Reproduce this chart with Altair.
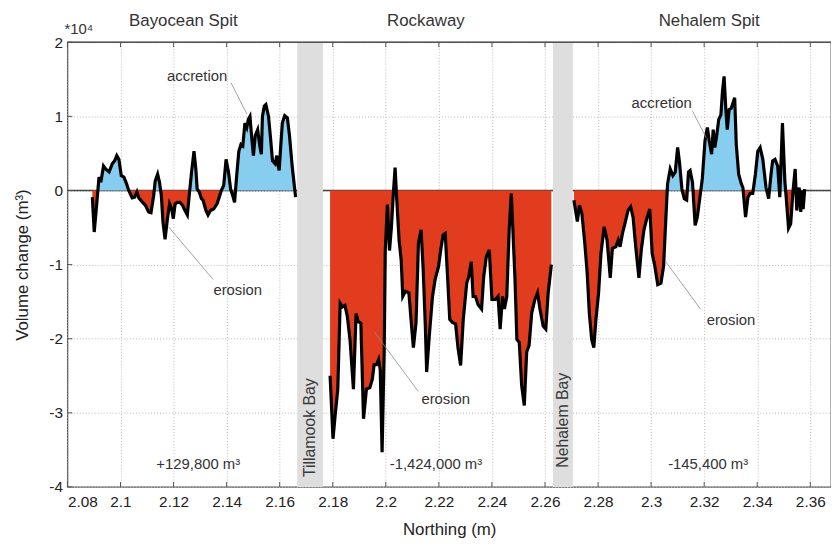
import altair as alt
import pandas as pd

# ---------------- data (volume change in units of 1e4 m^3) ----------------
seg1_n = [2.0894, 2.0901, 2.0911, 2.0919, 2.0926, 2.0936, 2.0944, 2.0957, 2.0969, 2.0978,
          2.0986, 2.0994, 2.1003, 2.1013, 2.1023, 2.1031, 2.1044, 2.1053, 2.1062, 2.1069,
          2.1081, 2.1094, 2.1106, 2.1115, 2.1125, 2.1131, 2.1140, 2.1147, 2.1154, 2.1160,
          2.1168, 2.1177, 2.1185, 2.1193, 2.1199, 2.1206, 2.1214, 2.1224, 2.1234, 2.1243,
          2.1252, 2.1259, 2.1268, 2.1277, 2.1284, 2.1289, 2.1297, 2.1305, 2.1311, 2.1322,
          2.1330, 2.1339, 2.1351, 2.1364, 2.1374, 2.1380, 2.1389, 2.1398, 2.1407, 2.1415,
          2.1423, 2.1430, 2.1438, 2.1446, 2.1454, 2.1461, 2.1469, 2.1476, 2.1482, 2.1488,
          2.1494, 2.1501, 2.1508, 2.1517, 2.1525, 2.1531, 2.1535, 2.1542, 2.1548, 2.1558,
          2.1566, 2.1573, 2.1583, 2.1589, 2.1598, 2.1604, 2.1610, 2.1619, 2.1629, 2.1637,
          2.1647, 2.1660]
seg1_v = [-0.09, -0.56, -0.16, 0.18, 0.11, 0.33, 0.29, 0.25, 0.36, 0.40,
          0.47, 0.42, 0.20, 0.18, 0.09, 0.00, -0.10, -0.09, -0.02, -0.10,
          -0.15, -0.20, -0.29, -0.30, -0.07, 0.13, 0.22, 0.11, -0.07, -0.42,
          -0.66, -0.38, -0.18, -0.25, -0.38, -0.18, -0.16, -0.16, -0.20, -0.27,
          -0.33, -0.07, 0.25, 0.53, 0.29, 0.02, -0.02, -0.11, -0.13, -0.27,
          -0.33, -0.27, -0.25, -0.18, -0.07, 0.00, 0.07, 0.42, 0.25, 0.02,
          -0.07, -0.16, 0.20, 0.53, 0.62, 0.60, 0.91, 0.85, 0.96, 1.00,
          0.74, 0.47, 0.74, 0.82, 0.60, 0.49, 1.00, 1.14, 1.16, 1.00,
          0.69, 0.40, 0.36, 0.47, 0.27, 0.60, 0.91, 1.01, 0.98, 0.74,
          0.33, -0.09]

seg2_n = [2.1790, 2.1801, 2.1809, 2.1819, 2.1828, 2.1837, 2.1846, 2.1855, 2.1865, 2.1878,
          2.1888, 2.1896, 2.1906, 2.1916, 2.1927, 2.1940, 2.1949, 2.1956, 2.1965, 2.1973,
          2.1979, 2.1986, 2.1994, 2.1998, 2.2006, 2.2014, 2.2021, 2.2029, 2.2035, 2.2041,
          2.2050, 2.2058, 2.2064, 2.2074, 2.2087, 2.2095, 2.2104, 2.2114, 2.2123, 2.2133,
          2.2141, 2.2149, 2.2154, 2.2164, 2.2176, 2.2186, 2.2199, 2.2207, 2.2216, 2.2224,
          2.2232, 2.2241, 2.2251, 2.2263, 2.2272, 2.2282, 2.2292, 2.2305, 2.2313, 2.2322,
          2.2329, 2.2338, 2.2348, 2.2361, 2.2369, 2.2379, 2.2390, 2.2400, 2.2413, 2.2423,
          2.2431, 2.2440, 2.2447, 2.2456, 2.2465, 2.2473, 2.2479, 2.2487, 2.2494, 2.2503,
          2.2512, 2.2522, 2.2531, 2.2540, 2.2550, 2.2562, 2.2572, 2.2581, 2.2593, 2.2603,
          2.2612, 2.2624]
seg2_v = [-2.50, -3.35, -3.04, -2.68, -1.52, -1.57, -1.55, -1.70, -2.01, -2.68,
          -1.66, -1.77, -1.79, -3.08, -2.68, -2.66, -2.55, -2.35, -2.35, -2.28,
          -2.42, -3.53, -2.15, -0.81, -0.19, -0.81, -0.50, -0.01, 0.31, -0.10,
          -0.67, -0.94, -1.43, -1.36, -1.38, -1.74, -2.12, -1.78, -0.71, -0.53,
          -1.07, -1.83, -2.45, -1.96, -1.43, -1.20, -1.02, -0.80, -0.60, -0.58,
          -1.11, -1.74, -1.78, -1.80, -2.12, -2.36, -1.74, -1.25, -1.16, -0.96,
          -1.43, -1.43, -1.54, -1.60, -1.16, -0.89, -0.80, -1.47, -1.47, -1.43,
          -1.87, -1.43, -1.60, -1.43, -0.53, -0.04, -0.53, -1.20, -2.01, -2.05,
          -2.63, -2.90, -2.18, -2.09, -1.65, -1.47, -1.38, -1.60, -1.83, -1.87,
          -1.38, -1.00]

seg3_n = [2.2709, 2.2722, 2.2730, 2.2739, 2.2749, 2.2759, 2.2767, 2.2776, 2.2784, 2.2792,
          2.2802, 2.2811, 2.2823, 2.2834, 2.2846, 2.2854, 2.2867, 2.2876, 2.2883, 2.2892,
          2.2901, 2.2913, 2.2923, 2.2932, 2.2942, 2.2954, 2.2963, 2.2973, 2.2985, 2.2995,
          2.3004, 2.3013, 2.3025, 2.3037, 2.3047, 2.3054, 2.3062, 2.3072, 2.3082, 2.3091,
          2.3100, 2.3107, 2.3116, 2.3125, 2.3134, 2.3141, 2.3147, 2.3156, 2.3166, 2.3174,
          2.3184, 2.3193, 2.3203, 2.3212, 2.3219, 2.3228, 2.3234, 2.3240, 2.3246, 2.3255,
          2.3263, 2.3269, 2.3275, 2.3282, 2.3287, 2.3294, 2.3302, 2.3315, 2.3321, 2.3330,
          2.3340, 2.3346, 2.3356, 2.3365, 2.3373, 2.3383, 2.3393, 2.3402, 2.3411, 2.3421,
          2.3433, 2.3443, 2.3452, 2.3458, 2.3467, 2.3477, 2.3485, 2.3495, 2.3504, 2.3510,
          2.3518, 2.3526, 2.3535, 2.3543, 2.3549, 2.3558, 2.3564, 2.3570, 2.3573, 2.3579]
seg3_v = [-0.13, -0.42, -0.20, -0.31, -0.67, -1.11, -1.65, -2.01, -2.12, -1.74,
          -1.38, -0.85, -0.49, -0.67, -1.18, -0.78, -0.76, -0.67, -0.76, -0.58,
          -0.45, -0.27, -0.22, -0.36, -0.76, -1.18, -0.80, -0.53, -0.36, -0.25,
          -0.85, -1.00, -1.27, -1.25, -1.02, -0.49, 0.09, 0.29, 0.20, 0.25,
          0.58, 0.38, 0.02, -0.11, -0.13, 0.25, 0.27, 0.11, -0.47, -0.36,
          -0.09, 0.16, 0.67, 0.85, 0.67, 0.49, 0.82, 0.58, 0.71, 0.96,
          1.02, 1.34, 1.54, 1.07, 0.82, 1.09, 1.11, 1.25, 0.62, 0.22,
          0.09, 0.04, -0.36, -0.09, -0.04, -0.04, 0.22, 0.53, 0.58, 0.42,
          0.04, -0.11, 0.22, 0.40, 0.42, 0.33, -0.09, 0.91, 0.13, -0.13,
          -0.51, -0.45, 0.00, 0.29, -0.27, 0.04, -0.29, 0.00, -0.25, 0.02]

segment_names = ["Bayocean Spit", "Rockaway", "Nehalem Spit"]
segment_title_n = [2.1237, 2.2151, 2.3219]
segment_totals = ["+129,800 m³", "-1,424,000 m³", "-145,400 m³"]
segment_total_n = [2.1293, 2.2189, 2.3215]

bay_names = ["Tillamook Bay", "Nehalem Bay"]
bay_start = [2.1666, 2.2630]
bay_end = [2.1763, 2.2705]
bay_label_n = [2.1715, 2.2667]
bay_label_v = [-3.20, -3.10]

note_text = ["accretion", "erosion", "erosion", "accretion", "erosion"]
note_n = [2.1289, 2.1442, 2.2226, 2.3040, 2.3301]
note_v = [1.55, -1.34, -2.82, 1.18, -1.75]
lead_n1 = [2.1417, 2.1181, 2.1957, 2.3156, 2.3055]
lead_v1 = [1.45, -0.49, -1.91, 1.07, -0.96]
lead_n2 = [2.1477, 2.1349, 2.2122, 2.3208, 2.3186]
lead_v2 = [1.03, -1.20, -2.71, 0.71, -1.60]

x_ticks = [2.08, 2.1, 2.12, 2.14, 2.16, 2.18, 2.2, 2.22, 2.24, 2.26, 2.28, 2.3, 2.32, 2.34, 2.36]
y_ticks = [-4, -3, -2, -1, 0, 1, 2]

# ---------------- layout / style ----------------
W, H = 771, 449
X_MIN, X_MAX = 2.08, 2.3678
Y_MIN, Y_MAX = -4, 2
FONT = "Liberation Sans, Arial, Helvetica, sans-serif"
BLUE = "#86cdef"
RED = "#e23c1f"
TXT = "#333333"

# ---------------- tables ----------------
rows = []
fill_rows = []
for name, ns, vs in zip(segment_names, [seg1_n, seg2_n, seg3_n], [seg1_v, seg2_v, seg3_v]):
    for n, v in zip(ns, vs):
        rows.append({"seg": name, "n": n, "v": v})
    # fill outline: observed points plus the zero crossings between them
    for i in range(len(ns)):
        if i > 0 and vs[i - 1] * vs[i] < 0:
            t = vs[i - 1] / (vs[i - 1] - vs[i])
            fill_rows.append({"seg": name, "n": ns[i - 1] + t * (ns[i] - ns[i - 1]), "v": 0.0})
        fill_rows.append({"seg": name, "n": ns[i], "v": vs[i]})
line_df = pd.DataFrame(rows)
fill_df = pd.DataFrame(fill_rows)
fill_df["pos"] = fill_df["v"].clip(lower=0)
fill_df["neg"] = fill_df["v"].clip(upper=0)
fill_df["zero"] = 0.0

xscale = alt.Scale(domain=[X_MIN, X_MAX], nice=False, zero=False)
yscale = alt.Scale(domain=[Y_MIN, Y_MAX], nice=False, zero=False)
xaxis = alt.Axis(values=x_ticks, labelExpr="'' + datum.value", title="Northing (m)",
                 grid=True, gridDash=[1, 2], gridColor="#b8b8b8", gridWidth=1,
                 tickSize=0, domain=False, labelPadding=8, labelFont=FONT, labelFontSize=15.5,
                 labelColor="#222222", titleFont=FONT, titleFontSize=17,
                 titleFontWeight="normal", titleColor="#222222", titlePadding=12)
yaxis = alt.Axis(values=y_ticks, labelExpr="'' + datum.value", title="Volume change (m³)",
                 grid=True, gridDash=[1, 2], gridColor="#b8b8b8", gridWidth=1,
                 tickSize=0, domain=False, labelPadding=5, labelFont=FONT, labelFontSize=15.5,
                 labelColor="#222222", titleFont=FONT, titleFontSize=17,
                 titleFontWeight="normal", titleColor="#222222", titlePadding=18)


def X(f):
    return alt.X(f"{f}:Q", scale=xscale, axis=xaxis)


def Y(f):
    return alt.Y(f"{f}:Q", scale=yscale, axis=yaxis)


zero_rule = alt.Chart(pd.DataFrame({"v": [0.0]})).mark_rule(
    color="#444444", strokeWidth=1.4).encode(y=Y("v"))

bays = pd.DataFrame({"name": bay_names, "a": bay_start, "b": bay_end,
                     "ln": bay_label_n, "lv": bay_label_v})
bay_rect = alt.Chart(bays).mark_rect(color="#dedede").encode(x=X("a"), x2="b:Q")
bay_text = alt.Chart(bays).mark_text(angle=270, font=FONT, fontSize=16, color="#3a3a3a",
                                     align="center", baseline="middle").encode(
    x=X("ln"), y=Y("lv"), text="name:N")

area_pos = alt.Chart(fill_df).mark_area(color=BLUE, interpolate="linear").encode(
    x=X("n"), y=Y("pos"), y2="zero:Q", detail="seg:N")
area_neg = alt.Chart(fill_df).mark_area(color=RED, interpolate="linear").encode(
    x=X("n"), y=Y("neg"), y2="zero:Q", detail="seg:N")
line = alt.Chart(line_df).mark_line(color="black", strokeWidth=3.2, strokeJoin="miter").encode(
    x=X("n"), y=Y("v"), detail="seg:N")

# inward tick marks (box style axes)
xt = pd.DataFrame({"t": x_ticks})
yt = pd.DataFrame({"t": y_ticks})
ticks_b = alt.Chart(xt).mark_rule(color="#555555", strokeWidth=1).encode(
    x=X("t"), y=alt.value(H), y2=alt.value(H - 5))
ticks_t = alt.Chart(xt).mark_rule(color="#555555", strokeWidth=1).encode(
    x=X("t"), y=alt.value(0), y2=alt.value(5))
ticks_l = alt.Chart(yt).mark_rule(color="#555555", strokeWidth=1).encode(
    y=Y("t"), x=alt.value(0), x2=alt.value(5))
top_border = alt.Chart(pd.DataFrame({"v": [Y_MAX]})).mark_rule(
    color="#555555", strokeWidth=1.3).encode(y=Y("v"))

leaders = pd.DataFrame({"n1": lead_n1, "v1": lead_v1, "n2": lead_n2, "v2": lead_v2})
leader = alt.Chart(leaders).mark_rule(color="#8a8a8a", strokeWidth=0.8).encode(
    x=X("n1"), y=Y("v1"), x2="n2:Q", y2="v2:Q")
notes = pd.DataFrame({"t": note_text, "n": note_n, "v": note_v})
note = alt.Chart(notes).mark_text(font=FONT, fontSize=15, color=TXT).encode(
    x=X("n"), y=Y("v"), text="t:N")

titles = pd.DataFrame({"t": segment_names, "n": segment_title_n, "v": [2.29] * 3})
title_t = alt.Chart(titles).mark_text(font=FONT, fontSize=17, color=TXT).encode(
    x=X("n"), y=Y("v"), text="t:N")
totals = pd.DataFrame({"t": segment_totals, "n": segment_total_n, "v": [-3.69] * 3})
total_t = alt.Chart(totals).mark_text(font=FONT, fontSize=15, color=TXT).encode(
    x=X("n"), y=Y("v"), text="t:N")
mult = pd.DataFrame({"t": ["*10⁴"], "n": [2.0789], "v": [2.18]})
mult_t = alt.Chart(mult).mark_text(font=FONT, fontSize=15, color=TXT, align="left").encode(
    x=X("n"), y=Y("v"), text="t:N")

chart = alt.layer(
    zero_rule, area_pos, area_neg, bay_rect, line, bay_text, top_border,
    ticks_b, ticks_t, ticks_l, leader, note, title_t, total_t, mult_t
).properties(
    width=W, height=H,
    autosize=alt.AutoSizeParams(type="none"),
    padding={"left": 60, "top": 32, "right": 0, "bottom": 54},
    background="white",
).configure_view(stroke="#555555", strokeWidth=1.3)

chart.save("out.html", embed_options={"renderer": "svg", "actions": False})
